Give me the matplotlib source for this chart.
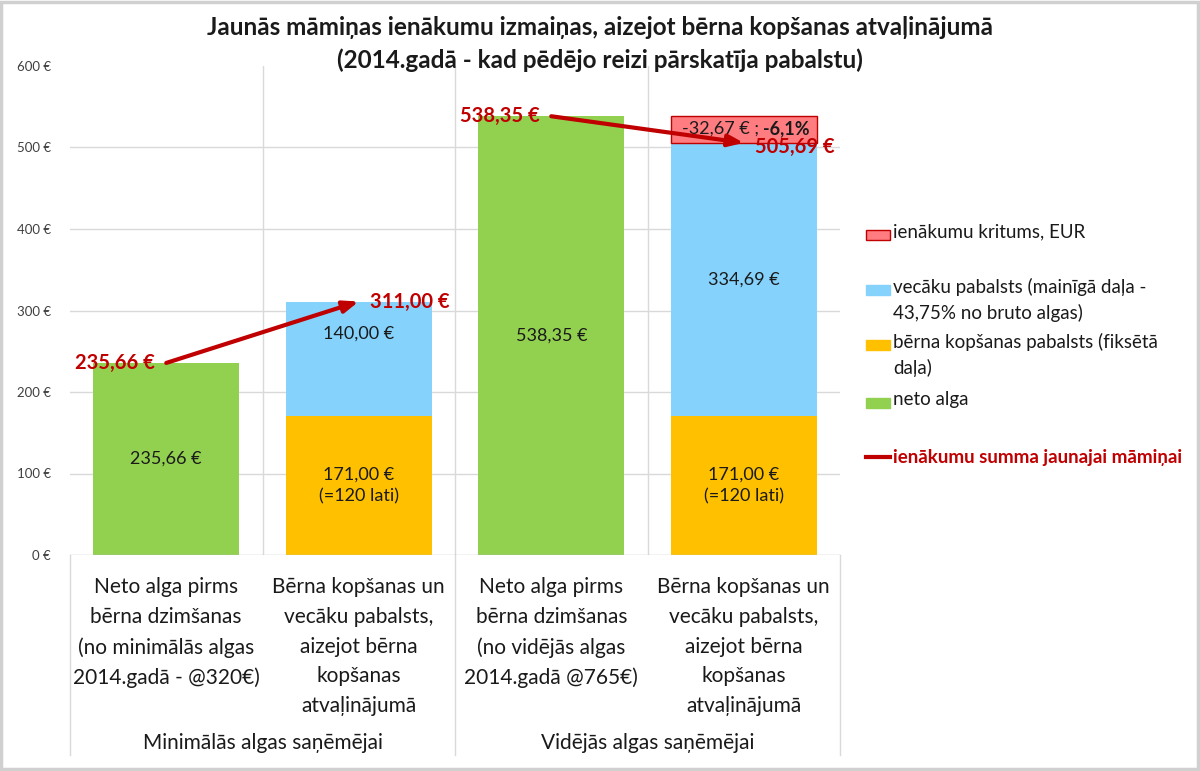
import matplotlib
matplotlib.use("Agg")
import matplotlib.pyplot as plt
from matplotlib.patches import Rectangle
from matplotlib.lines import Line2D
from matplotlib.ticker import FuncFormatter

plt.rcParams['font.family'] = ['Lato', 'DejaVu Sans']

# ---------------- data ----------------
categories = [
    "Neto alga pirms\nbērna dzimšanas\n(no minimālās algas\n2014.gadā - @320€)",
    "Bērna kopšanas un\nvecāku pabalsts,\naizejot bērna\nkopšanas\natvaļinājumā",
    "Neto alga pirms\nbērna dzimšanas\n(no vidējās algas\n2014.gadā @765€)",
    "Bērna kopšanas un\nvecāku pabalsts,\naizejot bērna\nkopšanas\natvaļinājumā",
]
groups = ["Minimālās algas saņēmējai", "Vidējās algas saņēmējai"]
neto_alga = [235.66, 0, 538.35, 0]
fiksetais = [0, 171.00, 0, 171.00]
mainigais = [0, 140.00, 0, 334.69]
kritums = [0, 0, 0, 32.67]
summa = [235.66, 311.00, 538.35, 505.69]
kritums_pct = -6.1
legend_labels = [
    "ienākumu kritums, EUR",
    "vecāku pabalsts (mainīgā daļa -\n43,75% no bruto algas)",
    "bērna kopšanas pabalsts (fiksētā\ndaļa)",
    "neto alga",
    "ienākumu summa jaunajai māmiņai",
]
yticks = [0, 100, 200, 300, 400, 500, 600]
title = ("Jaunās māmiņas ienākumu izmaiņas, aizejot bērna kopšanas atvaļinājumā\n"
         "(2014.gadā - kad pēdējo reizi pārskatīja pabalstu)")

C_GREEN = "#92D050"
C_ORANGE = "#FFC000"
C_BLUE = "#85D2FC"
C_RED = "#FF7C80"
C_DARKRED = "#C00000"

def eur(v):
    return f"{v:,.2f}".replace(",", " ").replace(".", ",") + " €"

fig = plt.figure(figsize=(12, 7.71), dpi=100)
fig.patch.set_facecolor("white")
fig.patches.append(Rectangle((0.001, 0.002), 0.997, 0.996, transform=fig.transFigure,
                             fill=False, edgecolor="#D0D0D0", lw=2.5))

ax = fig.add_axes([70/1200, 1-555/771, 770/1200, 489/771])
x = list(range(len(categories)))
w = 0.76

ax.bar(x, neto_alga, w, color=C_GREEN, zorder=2)
ax.bar(x, fiksetais, w, color=C_ORANGE, zorder=2)
ax.bar(x, mainigais, w, bottom=fiksetais, color=C_BLUE, zorder=2)
tops = [f + m for f, m in zip(fiksetais, mainigais)]
for i in x:
    if kritums[i] > 0:
        ax.bar(i, kritums[i], w, bottom=tops[i], color=C_RED,
               edgecolor=C_DARKRED, lw=1, zorder=2)

ax.set_xlim(-0.5, 3.5)
ax.set_ylim(0, 600)
ax.set_yticks(yticks)
ax.yaxis.set_major_formatter(FuncFormatter(lambda v, p: f"{int(v)} €"))
ax.tick_params(axis='y', length=0, pad=14, labelsize=9.5, labelcolor="#404040")
ax.set_xticks([])
for s in ax.spines.values():
    s.set_visible(False)
ax.axhline(0, color="#BFBFBF", lw=1, zorder=3)
for v in yticks[1:-1]:
    ax.axhline(v, color="#D9D9D9", lw=1, zorder=1)
for b in [0.5, 1.5, 2.5]:
    ax.axvline(b, color="#D9D9D9", lw=1, zorder=1)

# data labels inside bars
lab_kw = dict(ha='center', va='center', fontsize=13, color="#1a1a1a", zorder=5)
for i in x:
    if neto_alga[i] > 0:
        ax.text(i, neto_alga[i] / 2, eur(neto_alga[i]), **lab_kw)
    if fiksetais[i] > 0:
        ax.text(i, fiksetais[i] / 2, eur(fiksetais[i]) + "\n(=120 lati)",
                linespacing=1.4, **lab_kw)
    if mainigais[i] > 0:
        ypos = fiksetais[i] + mainigais[i] / 2
        if mainigais[i] < 200:
            ypos = fiksetais[i] + mainigais[i] * 0.72
        ax.text(i, ypos, eur(mainigais[i]), **lab_kw)

# drop label in red segment
i3 = 3
yk = tops[i3] + kritums[i3] / 2 + 1
t1 = ax.annotate(f"-{eur(kritums[i3])} ; ", xy=(i3, yk), xytext=(14, 0),
                 textcoords='offset points', ha='right', va='center',
                 fontsize=13, color="#1a1a1a", zorder=6)
ax.annotate(f"{kritums_pct:.1f}%".replace(".", ","), xy=(1, 0.5), xycoords=t1,
            ha='left', va='center', fontsize=13, fontweight='bold',
            color="#1a1a1a", zorder=6)

# arrows (income sum)
for a, b in [(0, 1), (2, 3)]:
    ax.annotate("", xy=(b, summa[b]), xytext=(a, summa[a]),
                arrowprops=dict(arrowstyle="-|>,head_length=0.9,head_width=0.35",
                                color=C_DARKRED, lw=3, shrinkA=0, shrinkB=0),
                zorder=7)
    ax.annotate(eur(summa[a]), xy=(a, summa[a]), xytext=(-8, 0),
                textcoords='offset points', ha='right', va='center',
                fontsize=14.5, fontweight='bold', color=C_DARKRED, zorder=8)
    ax.annotate(eur(summa[b]), xy=(b, summa[b]), xytext=(8, 0 if b == 1 else -3),
                textcoords='offset points', ha='left', va='center',
                fontsize=14.5, fontweight='bold', color=C_DARKRED, zorder=8)

# category table below axis
tr = ax.get_xaxis_transform()
for b in [-0.5, 1.5, 3.5]:
    ax.plot([b, b], [0, -0.409], transform=tr, clip_on=False, color="#D9D9D9", lw=1)
for i, lab in enumerate(categories):
    ax.text(i, -0.046, lab, transform=tr, ha='center', va='top', fontsize=15,
            linespacing=1.6, color="#1a1a1a")
for g, lab in enumerate(groups):
    ax.text(g * 2 + 0.5, -0.384, lab, transform=tr, ha='center', va='center',
            fontsize=15, color="#1a1a1a")

# title
fig.text(600/1200, 1-44/771, title, ha='center', va='center', fontsize=17.5,
         fontweight='bold', linespacing=1.45, color="#1a1a1a")

# legend
H, W = 1200, 771
leg_colors = [C_RED, C_BLUE, C_ORANGE, C_GREEN]
leg_edges = [C_DARKRED, C_BLUE, C_ORANGE, C_GREEN]
leg_y = [235, 290, 345, 403]
for lab, col, ec, yy in zip(legend_labels[:4], leg_colors, leg_edges, leg_y):
    fig.patches.append(Rectangle((866/H, 1-(yy+5)/W), 24/H, 10/W, transform=fig.transFigure,
                                 facecolor=col, edgecolor=ec, lw=1))
    fig.text(893/H, 1-(yy-12)/W, lab, ha='left', va='top', fontsize=13.5,
             linespacing=1.5, color="#1a1a1a")
fig.lines.append(Line2D([866/H, 890/H], [1-457/W, 1-457/W], transform=fig.transFigure,
                        color=C_DARKRED, lw=3))
fig.text(893/H, 1-457/W, legend_labels[4], ha='left', va='center', fontsize=13.5,
         fontweight='bold', color=C_DARKRED)

fig.savefig("out.png", dpi=100)
